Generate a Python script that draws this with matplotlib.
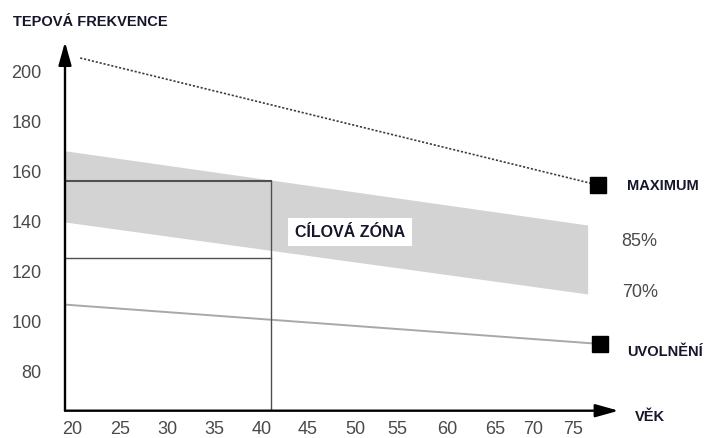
import matplotlib.pyplot as plt

plt.rcParams['font.family'] = ['Liberation Sans Narrow', 'Liberation Sans', 'DejaVu Sans']

# values
age_labels = [20, 25, 30, 35, 40, 45, 50, 55, 60, 65, 70, 75]
# the printed age labels are not evenly spaced in the original drawing
age_label_pos = [20.0, 25.27, 30.43, 35.59, 40.86, 45.91, 51.06, 55.68, 61.16, 66.43, 70.6, 75.0]
hr_labels = [80, 100, 120, 140, 160, 180, 200]

max_age = [20.9, 77.7]
max_hr = [205.1, 154.3]

rest_age = [19.4, 78.0]
rest_hr = [106.4, 90.7]

zone_age = [19.2, 76.6]
zone_85 = [168.0, 138.3]
zone_70 = [139.5, 110.7]

example_age = 41.8
example_hr_85 = 156
example_hr_70 = 125

text_dark = "#16162a"
text_grey = "#4a4a4a"

fig = plt.figure(figsize=(7.05, 4.39), dpi=100)
ax = fig.add_axes([65 / 705, (439 - 411.7) / 439, (618.6 - 65) / 705, (411.7 - 43) / 439])
ax.set_xlim(19.232, 80.0)
ax.set_ylim(64, 211.5)
x0 = ax.get_xlim()[0]
y0 = ax.get_ylim()[0]

# target zone band
ax.fill_between(zone_age, zone_70, zone_85, color="#d3d3d3", lw=0, zorder=1)

# maximum and rest lines
ax.plot(max_age, max_hr, color="#3c3c3c", lw=1.2, ls=(0, (1.3, 1.1)), zorder=2)
ax.plot(rest_age, rest_hr, color="#a8a8a8", lw=1.4, zorder=2)
ax.plot(max_age[-1], max_hr[-1], marker="s", ms=12, color="black", zorder=4)
ax.plot(rest_age[-1], rest_hr[-1], marker="s", ms=12, color="black", zorder=4)

# example for a 40 year old
ax.plot([x0, example_age], [example_hr_85, example_hr_85], color="#505050", lw=1.5, zorder=3)
ax.plot([x0, example_age], [example_hr_70, example_hr_70], color="#505050", lw=1.0, zorder=3)
ax.plot([example_age, example_age], [y0, example_hr_85], color="#505050", lw=1.0, zorder=3)

# axes with arrows
for ax_end in [(0, 1), (1, 0)]:
    ax.annotate("", xy=ax_end, xytext=(0, 0), xycoords="axes fraction",
                arrowprops=dict(arrowstyle="-|>,head_length=1.0,head_width=0.28",
                                color="black", lw=1.7, shrinkA=0, shrinkB=0,
                                mutation_scale=14), zorder=5)
for s in ax.spines.values():
    s.set_visible(False)

ax.set_xticks(age_label_pos, labels=[str(a) for a in age_labels])
ax.set_yticks(hr_labels, labels=[str(h) for h in hr_labels])
ax.tick_params(length=0, labelsize=13, labelcolor=text_grey)
ax.tick_params(axis="x", pad=7)
ax.tick_params(axis="y", pad=17)

bold = dict(fontweight="bold", color=text_dark, fontsize=10.5)

fig.text(12.7 / 705, 1 - 21.7 / 439, "TEPOVÁ FREKVENCE", ha="left", va="center", **bold)
fig.text(650 / 705, 1 - 417 / 439, "VĚK", ha="center", va="center", **bold)

ax.annotate("MAXIMUM", xy=(max_age[-1], max_hr[-1]), xytext=(21, 0),
            textcoords="offset points", ha="left", va="center", **bold)
ax.annotate("UVOLNĚNÍ", xy=(rest_age[-1], rest_hr[-1]), xytext=(19.5, -5),
            textcoords="offset points", ha="left", va="center", **bold)

ax.annotate("85%", xy=(zone_age[-1], zone_85[-1]), xytext=(24.5, -11),
            textcoords="offset points", ha="left", va="center",
            fontsize=13, color=text_grey)
ax.annotate("70%", xy=(zone_age[-1], zone_70[-1]), xytext=(24.5, 1.5),
            textcoords="offset points", ha="left", va="center",
            fontsize=13, color=text_grey)

ax.text(50.5, 135.5, "CÍLOVÁ ZÓNA", ha="center", va="center", fontweight="bold",
        color=text_dark, fontsize=11.5, zorder=6,
        bbox=dict(boxstyle="square,pad=0.42", fc="white", ec="none"))

fig.savefig("out.png", dpi=100)
